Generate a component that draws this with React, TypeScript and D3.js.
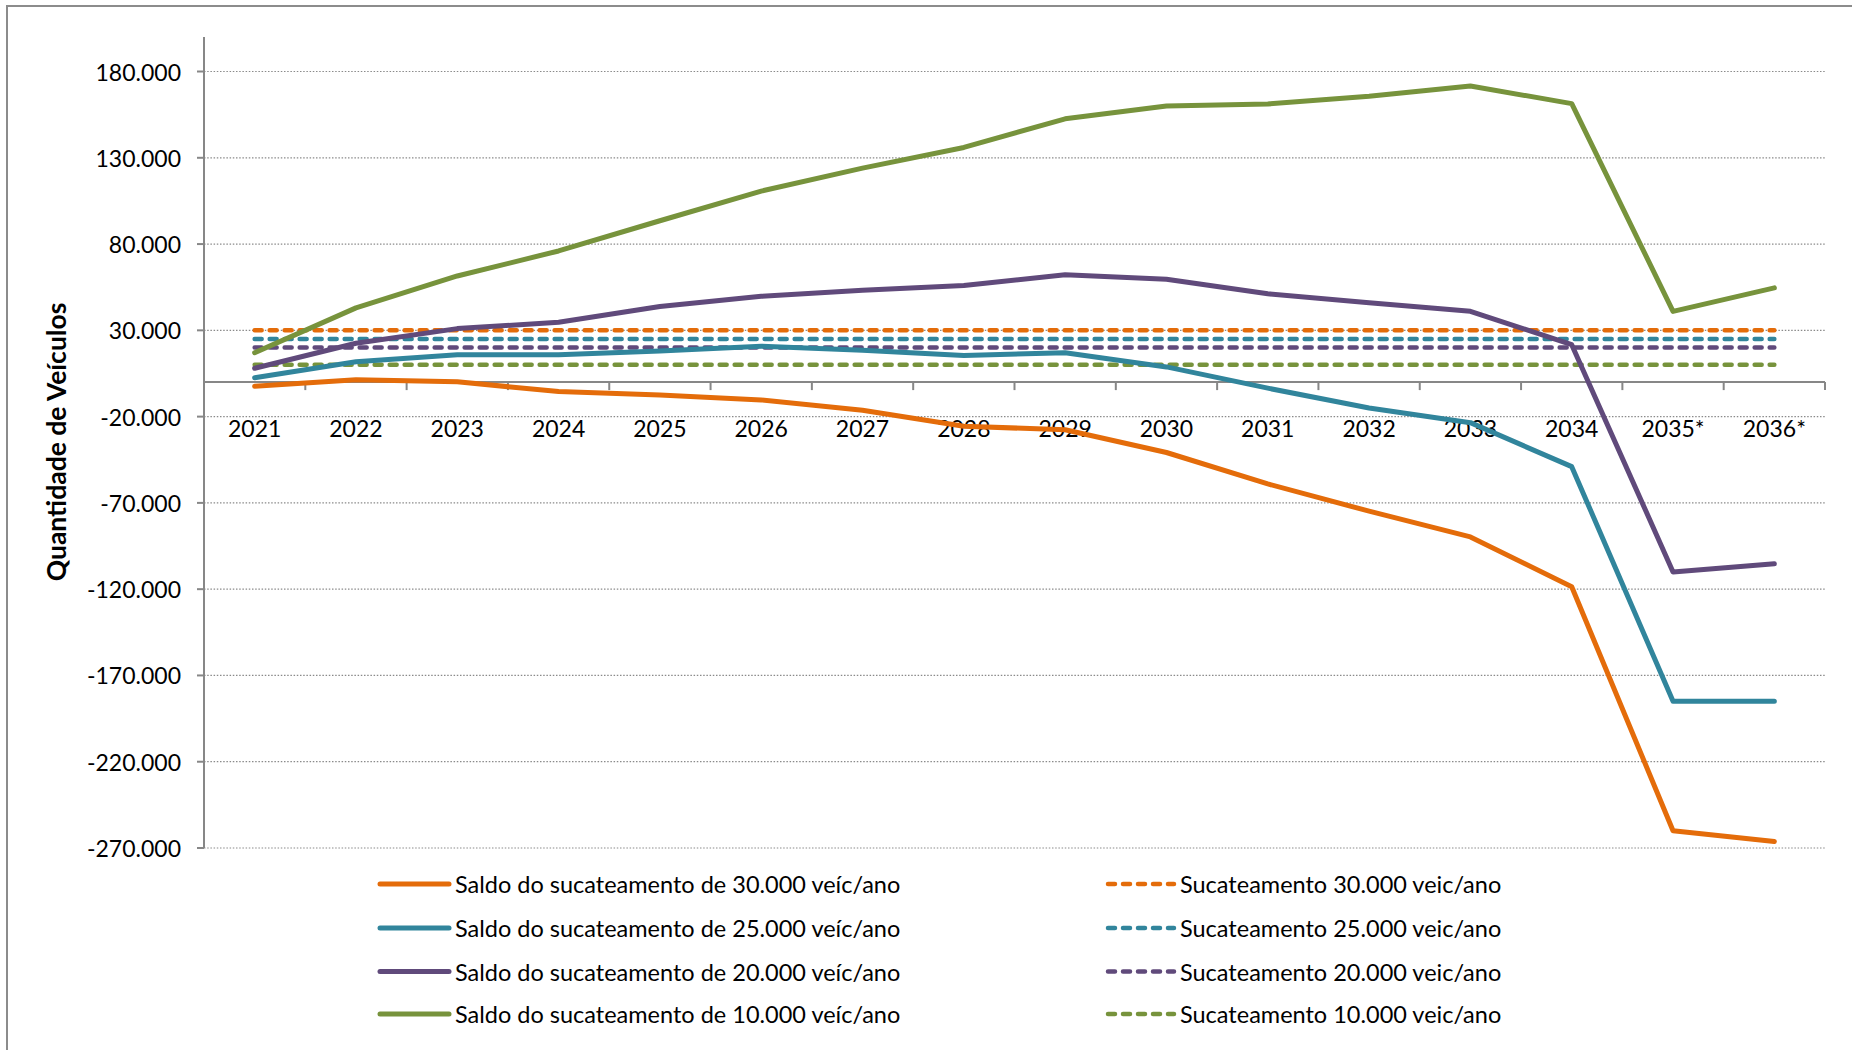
import React from "react";
import * as d3 from "d3";

const years = ["2021","2022","2023","2024","2025","2026","2027","2028","2029","2030","2031","2032","2033","2034","2035*","2036*"];

const saldo30 = [-2400, 1300, 200, -5500, -7500, -10300, -16300, -25600, -27600, -40800, -59000, -74800, -89700, -118600, -260000, -266200];
const saldo25 = [2500, 11800, 15800, 15800, 18000, 20800, 18400, 15400, 17000, 8800, -3500, -15000, -23500, -49000, -185000, -185000];
const saldo20 = [8000, 22500, 31000, 34700, 43800, 49700, 53200, 56000, 62200, 59600, 51200, 46000, 41000, 21700, -110000, -105300];
const saldo10 = [17000, 43000, 61500, 76000, 93500, 110700, 124000, 136000, 152600, 160000, 161200, 165700, 171600, 161400, 41000, 54600];

const sucat30 = years.map(() => 30000);
const sucat25 = years.map(() => 25000);
const sucat20 = years.map(() => 20000);
const sucat10 = years.map(() => 10000);

const yTicks = [-270000, -220000, -170000, -120000, -70000, -20000, 30000, 80000, 130000, 180000];

const solidSeries = [
  { name: "Saldo do sucateamento de 30.000 veíc/ano", values: saldo30, color: "#E46C0A" },
  { name: "Saldo do sucateamento de 25.000 veíc/ano", values: saldo25, color: "#31859C" },
  { name: "Saldo do sucateamento de 20.000 veíc/ano", values: saldo20, color: "#604A7B" },
  { name: "Saldo do sucateamento de 10.000 veíc/ano", values: saldo10, color: "#77933C" },
];
const dashedSeries = [
  { name: "Sucateamento 30.000 veic/ano", values: sucat30, color: "#E46C0A" },
  { name: "Sucateamento 25.000 veic/ano", values: sucat25, color: "#31859C" },
  { name: "Sucateamento 20.000 veic/ano", values: sucat20, color: "#604A7B" },
  { name: "Sucateamento 10.000 veic/ano", values: sucat10, color: "#77933C" },
];

const fmt = (v: number) => {
  const s = d3.format(",")(v).replace(/,/g, ".");
  return s.replace("−", "-");
};

export default function App() {
  const W = 1852, H = 1050;
  const left = 204, right = 1825, top = 37, bottom = 848;
  const x = d3.scaleBand<string>().domain(years).range([left, right]).padding(0);
  const y = d3.scaleLinear().domain([-270000, 200000]).range([bottom, top]);
  const cx = (d: string) => (x(d) as number) + x.bandwidth() / 2;
  const line = d3.line<number>().x((_, i) => cx(years[i])).y((v) => y(v));
  const font = "Lato, 'Open Sans', sans-serif";
  const gray = "#878787";
  const legendRows = [884, 928, 971.5, 1014];

  return (
    <svg width={W} height={H} style={{ position: "absolute", left: 0, top: 0, background: "#fff" }} fontFamily={font}>
      <rect x={0} y={0} width={W} height={H} fill="#fff" />
      <rect x={7} y={6} width={W + 50} height={H + 50} fill="none" stroke="#8c8c8c" strokeWidth={2} />
      {/* gridlines */}
      {yTicks.map((t) => (
        <g key={t}>
          <line x1={left} x2={right} y1={y(t)} y2={y(t)} stroke="#8a8a8a" strokeWidth={1.2} strokeDasharray="1.5,1.7" />
          <line x1={left - 7} x2={left} y1={y(t)} y2={y(t)} stroke={gray} strokeWidth={2} />
          <text x={181} y={y(t)} textAnchor="end" dominantBaseline="central" fontSize={23} fill="#000">{fmt(t)}</text>
        </g>
      ))}
      {/* y axis */}
      <line x1={left} x2={left} y1={top} y2={bottom} stroke={gray} strokeWidth={2} />
      {/* x axis at zero */}
      <line x1={left} x2={right} y1={y(0)} y2={y(0)} stroke={gray} strokeWidth={2} />
      {years.map((d) => (
        <line key={d} x1={(x(d) as number) + x.bandwidth()} x2={(x(d) as number) + x.bandwidth()} y1={y(0)} y2={y(0) + 8} stroke={gray} strokeWidth={2} />
      ))}
      {years.map((d) => (
        <text key={d} x={cx(d)} y={437} textAnchor="middle" fontSize={23} fill="#000">{d}</text>
      ))}
      {/* y title */}
      <text transform={`translate(56,442) rotate(-90)`} textAnchor="middle" dominantBaseline="central" fontSize={26.5} fontWeight="bold" fill="#000">Quantidade de Veículos</text>
      {/* dashed series */}
      {dashedSeries.map((s) => (
        <path key={s.name} d={line(s.values) as string} fill="none" stroke={s.color} strokeWidth={4.5} strokeDasharray="7,8" strokeLinecap="round" />
      ))}
      {/* solid series */}
      {solidSeries.map((s) => (
        <path key={s.name} d={line(s.values) as string} fill="none" stroke={s.color} strokeWidth={5} strokeLinejoin="round" strokeLinecap="round" />
      ))}
      {/* legend */}
      {solidSeries.map((s, i) => (
        <g key={s.name}>
          <line x1={380} x2={449} y1={legendRows[i]} y2={legendRows[i]} stroke={s.color} strokeWidth={5} strokeLinecap="round" />
          <text x={455} y={legendRows[i]} dominantBaseline="central" fontSize={23.5} fill="#000">{s.name}</text>
        </g>
      ))}
      {dashedSeries.map((s, i) => (
        <g key={s.name}>
          <line x1={1108} x2={1174} y1={legendRows[i]} y2={legendRows[i]} stroke={s.color} strokeWidth={4.5} strokeDasharray="7,8" strokeLinecap="round" />
          <text x={1180} y={legendRows[i]} dominantBaseline="central" fontSize={23.5} fill="#000">{s.name}</text>
        </g>
      ))}
    </svg>
  );
}
